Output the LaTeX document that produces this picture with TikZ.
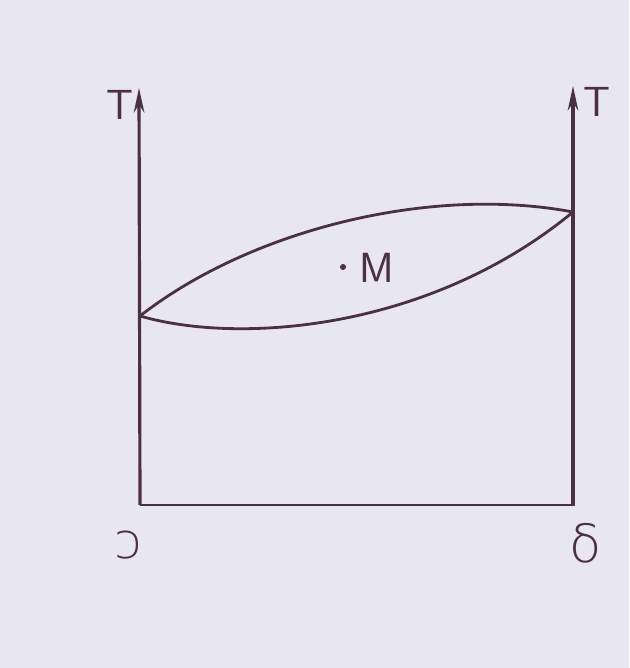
\documentclass[tikz,border=0pt]{standalone}
\usepackage{fontspec}
\newfontfamily\djv{DejaVu Sans ExtraLight}
\usetikzlibrary{arrows.meta}
\definecolor{ink}{HTML}{4A3042}
\definecolor{paper}{HTML}{E8E6F0}
\begin{document}
\begin{tikzpicture}[x=0.02cm,y=-0.02cm,
  ax/.style={ink,line width=1.8pt,-{Stealth[length=14pt,width=6pt]}},
  cur/.style={ink,line width=1.6pt},
  lab/.style={ink,font=\sffamily\fontsize{24}{24}\selectfont,inner sep=0pt}]
\fill[paper] (0,0) rectangle (629,668);
\useasboundingbox (0,0) rectangle (629,668);
\coordinate (O) at (140,505);
\coordinate (B) at (575,505);
\coordinate (L) at (140,316);
\coordinate (R) at (573,212);
\coordinate (Ltop) at (139,88);
\coordinate (Rtop) at (573,86);
\draw[ax] (O) -- (Ltop);
\draw[ax] (573,505) -- (Rtop);
\draw[cur] (O) -- (B);
\draw[cur] (L) .. controls (250,230) and (430,185) .. (R);
\draw[cur] (L) .. controls (240,345) and (430,330) .. (R);
\fill[ink] (343,267) circle (3);
\node[lab] (M) at (377,268) {M};
\node[lab] (T1) at (120,105) {T};
\node[lab] (T2) at (597,102) {T};
\node[ink,inner sep=0pt,font=\djv\fontsize{28}{28}\selectfont] (z) at (128,545) {ɔ};
\node[ink,inner sep=0pt,font=\djv\fontsize{30}{30}\selectfont] (d) at (586,543) {δ};
\end{tikzpicture}
\end{document}
